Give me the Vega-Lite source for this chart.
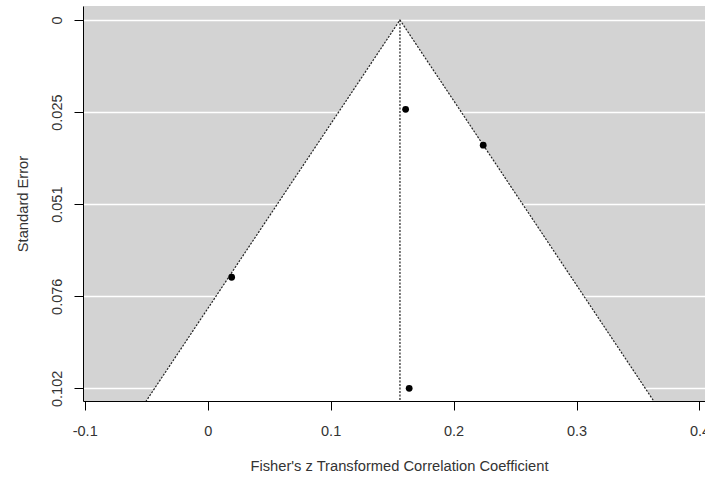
{
  "$schema": "https://vega.github.io/schema/vega-lite/v6.json",
  "width": 622,
  "height": 395,
  "autosize": {"type": "none"},
  "padding": {"left": 83, "top": 6, "right": 0, "bottom": 76},
  "background": "white",
  "config": {
    "view": {"fill": "#d3d3d3", "stroke": null},
    "font": "Liberation Sans"
  },
  "datasets": {
    "funnel": [
      {"se": 0, "lo": 0.1564, "hi": 0.1564},
      {"se": 0.12, "lo": -0.0788, "hi": 0.3916}
    ],
    "edges": [
      {"se": 0.12, "z": -0.0788, "o": 1},
      {"se": 0, "z": 0.1564, "o": 2},
      {"se": 0.12, "z": 0.3916, "o": 3}
    ],
    "center": [
      {"z": 0.1564, "se0": 0, "se1": 0.12}
    ],
    "studies": [
      {"z": 0.161, "se": 0.0247},
      {"z": 0.2241, "se": 0.0346},
      {"z": 0.0195, "se": 0.0711},
      {"z": 0.1639, "se": 0.1018}
    ]
  },
  "encoding": {
    "x": {
      "type": "quantitative",
      "scale": {"domain": [-0.1014, 0.4045], "nice": false, "zero": false},
      "axis": {
        "values": [-0.1, 0, 0.1, 0.2, 0.3, 0.4],
        "labelExpr": "'' + datum.value",
        "grid": false,
        "domainColor": "black",
        "tickColor": "black",
        "tickSize": 9,
        "labelFontSize": 14.5,
        "labelColor": "#333333",
        "labelPadding": 14,
        "title": "Fisher's z Transformed Correlation Coefficient",
        "titleFontSize": 14.7,
        "titleFontWeight": "normal",
        "titleColor": "#333333",
        "titleX": 316,
        "titleY": 69,
        "titleBaseline": "alphabetic"
      }
    },
    "y": {
      "type": "quantitative",
      "scale": {"domain": [-0.00387, 0.1053], "nice": false, "zero": false, "reverse": true},
      "axis": {
        "values": [0, 0.02545, 0.0509, 0.07635, 0.1018],
        "labelExpr": "datum.value == 0 ? '0' : format(datum.value, '.3f')",
        "grid": true,
        "gridColor": "white",
        "gridWidth": 1.5,
        "gridOpacity": 1,
        "domainColor": "black",
        "tickColor": "black",
        "tickSize": 9,
        "labelFontSize": 14.5,
        "labelColor": "#333333",
        "labelAngle": -90,
        "labelAlign": "center",
        "labelBaseline": "alphabetic",
        "labelPadding": 13,
        "title": "Standard Error",
        "titleFontSize": 14.7,
        "titleFontWeight": "normal",
        "titleColor": "#333333",
        "titleAngle": -90,
        "titleX": -56,
        "titleBaseline": "alphabetic"
      }
    }
  },
  "layer": [
    {
      "data": {"name": "funnel"},
      "mark": {"type": "area", "orient": "horizontal", "color": "white", "clip": true},
      "encoding": {
        "y": {"field": "se"},
        "x": {"field": "lo"},
        "x2": {"field": "hi"}
      }
    },
    {
      "data": {"name": "edges"},
      "mark": {"type": "line", "color": "#222222", "strokeWidth": 1.2, "strokeDash": [2, 1.5], "clip": true},
      "encoding": {
        "x": {"field": "z"},
        "y": {"field": "se"},
        "order": {"field": "o", "type": "quantitative"}
      }
    },
    {
      "data": {"name": "center"},
      "mark": {"type": "rule", "color": "#222222", "strokeWidth": 1.2, "strokeDash": [2, 1.5], "clip": true},
      "encoding": {
        "x": {"field": "z"},
        "y": {"field": "se0"},
        "y2": {"field": "se1"}
      }
    },
    {
      "data": {"name": "studies"},
      "mark": {"type": "circle", "color": "black", "size": 46, "opacity": 1},
      "encoding": {
        "x": {"field": "z"},
        "y": {"field": "se"}
      }
    }
  ]
}
